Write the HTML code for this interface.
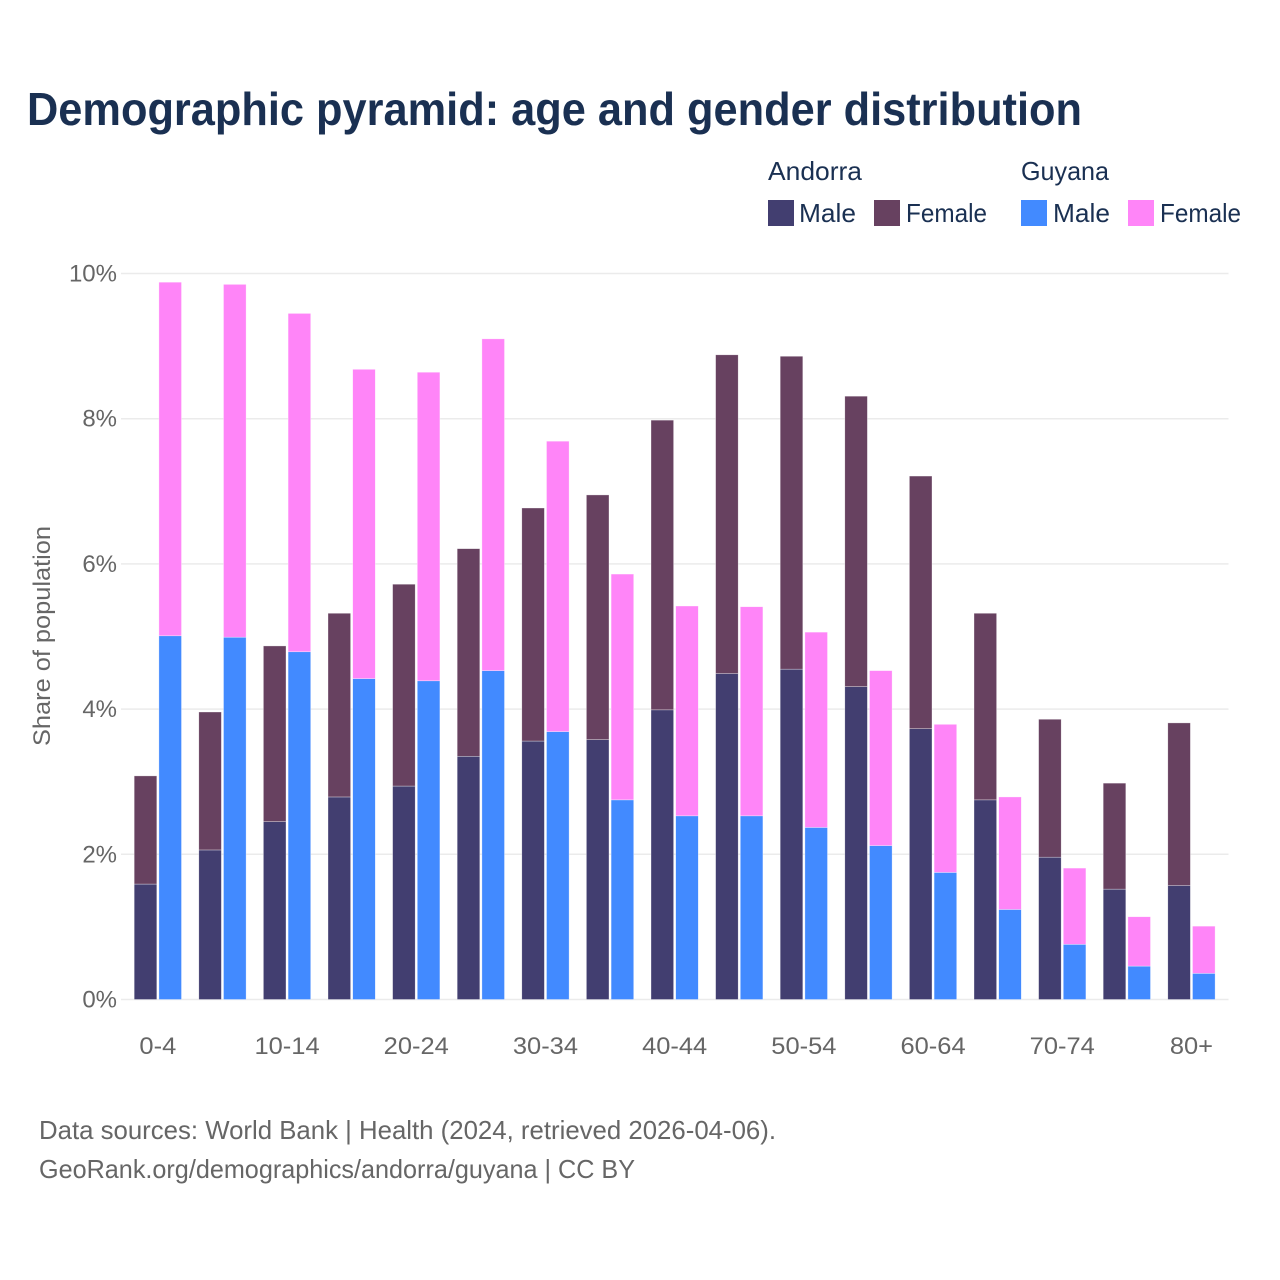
<!DOCTYPE html>
<html lang="en">
<head>
<meta charset="utf-8">
<title>Demographic pyramid: age and gender distribution</title>
<style>
html,body{margin:0;padding:0;background:#fff;}
svg{display:block;}
text{font-family:"Liberation Sans",sans-serif;}
</style>
</head>
<body>
<svg id="chart" xmlns="http://www.w3.org/2000/svg" width="1280" height="1280" viewBox="0 0 1280 1280">
  <rect x="0" y="0" width="1280" height="1280" fill="#ffffff"/>
  <text x="27" y="125" font-size="46" font-weight="700" fill="#1a3052" textLength="1055" lengthAdjust="spacingAndGlyphs">Demographic pyramid: age and gender distribution</text>

  <g font-size="26" fill="#1a3052">
    <text x="768" y="180" textLength="94" lengthAdjust="spacingAndGlyphs">Andorra</text>
    <text x="1021" y="180" textLength="88" lengthAdjust="spacingAndGlyphs">Guyana</text>
    <rect x="768" y="200" width="26" height="26" fill="#423e70"/>
    <text x="799" y="222" textLength="57" lengthAdjust="spacingAndGlyphs">Male</text>
    <rect x="874" y="200" width="26" height="26" fill="#674160"/>
    <text x="906" y="222" textLength="81" lengthAdjust="spacingAndGlyphs">Female</text>
    <rect x="1021" y="200" width="26" height="26" fill="#428aff"/>
    <text x="1053" y="222" textLength="57" lengthAdjust="spacingAndGlyphs">Male</text>
    <rect x="1128" y="200" width="26" height="26" fill="#ff85f8"/>
    <text x="1160" y="222" textLength="81" lengthAdjust="spacingAndGlyphs">Female</text>
  </g>

  <g id="grid"></g>
  <g id="y-ticks"></g>
  <g id="bars"></g>
  <g id="x-ticks"></g>

  <text transform="translate(50,746) rotate(-90)" x="0" y="0" font-size="24" fill="#666666" textLength="220" lengthAdjust="spacingAndGlyphs">Share of population</text>

  <text x="39" y="1139" font-size="26" fill="#666666" textLength="737" lengthAdjust="spacingAndGlyphs">Data sources: World Bank | Health (2024, retrieved 2026-04-06).</text>
  <text x="39" y="1178" font-size="26" fill="#666666" textLength="596" lengthAdjust="spacingAndGlyphs">GeoRank.org/demographics/andorra/guyana | CC BY</text>
</svg>
<script>
const ageGroups = ["0-4","5-9","10-14","15-19","20-24","25-29","30-34","35-39","40-44","45-49","50-54","55-59","60-64","65-69","70-74","75-79","80+"];
const xTickLabels = ["0-4","10-14","20-24","30-34","40-44","50-54","60-64","70-74","80+"];
const yTickValues = [0,2,4,6,8,10];
const andorraMale = [1.59,2.06,2.45,2.79,2.94,3.35,3.56,3.58,3.99,4.49,4.55,4.31,3.73,2.75,1.96,1.52,1.57];
const andorraFemale = [1.49,1.90,2.42,2.53,2.78,2.86,3.21,3.37,3.99,4.39,4.31,4.00,3.48,2.57,1.90,1.46,2.24];
const guyanaMale = [5.01,4.99,4.79,4.42,4.39,4.53,3.69,2.75,2.53,2.53,2.37,2.12,1.75,1.24,0.76,0.46,0.36];
const guyanaFemale = [4.87,4.86,4.66,4.26,4.25,4.57,4.00,3.11,2.89,2.88,2.69,2.41,2.04,1.55,1.05,0.68,0.65];

const SVG_NS = "http://www.w3.org/2000/svg";
const PLOT_LEFT = 121, PLOT_RIGHT = 1228.5, Y_ZERO = 999.5, Y_TOP = 273.5, Y_MAX = 10;
const BAND_START = 126, BAND_STEP = 64.6;
const BAR_WIDTH = 22.6, ANDORRA_OFFSET = 8.2, GUYANA_OFFSET = 32.9;

function yScale(v) { return Y_ZERO - (v / Y_MAX) * (Y_ZERO - Y_TOP); }
function bandStart(i) { return BAND_START + i * BAND_STEP; }
function bandCenter(i) { return bandStart(i) + (ANDORRA_OFFSET + GUYANA_OFFSET + BAR_WIDTH) / 2; }

const grid = document.getElementById("grid");
const yTicks = document.getElementById("y-ticks");
const barsGroup = document.getElementById("bars");
const xTicks = document.getElementById("x-ticks");

yTickValues.forEach(function (v) {
  const line = document.createElementNS(SVG_NS, "line");
  
  
  line.setAttribute("x1", PLOT_LEFT);
  line.setAttribute("x2", PLOT_RIGHT);
  line.setAttribute("y1", yScale(v));
  line.setAttribute("y2", yScale(v));
  line.setAttribute("stroke", "#ebebeb");
  line.setAttribute("stroke-width", "1.5");
  grid.appendChild(line);

  const label = document.createElementNS(SVG_NS, "text");
  
  
  label.setAttribute("x", 117);
  label.setAttribute("y", yScale(v) + 8);
  label.setAttribute("text-anchor", "end");
  label.setAttribute("font-size", "24");
  label.setAttribute("fill", "#666666");
  label.textContent = v + "%";
  yTicks.appendChild(label);
});

function drawSegment(x, base, value, color, name) {
  const rect = document.createElementNS(SVG_NS, "rect");
  
  
  rect.setAttribute("x", x);
  rect.setAttribute("y", yScale(base + value));
  rect.setAttribute("width", BAR_WIDTH);
  rect.setAttribute("height", yScale(base) - yScale(base + value));
  rect.setAttribute("fill", color);
  rect.setAttribute("stroke", "#ffffff");
  rect.setAttribute("stroke-opacity", "0.55");
  rect.setAttribute("stroke-width", "0.6");
  barsGroup.appendChild(rect);
}

ageGroups.forEach(function (group, i) {
  const ax = bandStart(i) + ANDORRA_OFFSET;
  const gx = bandStart(i) + GUYANA_OFFSET;
  drawSegment(ax, 0, andorraMale[i], "#423e70", "bar-andorra-male-" + group);
  drawSegment(ax, andorraMale[i], andorraFemale[i], "#674160", "bar-andorra-female-" + group);
  drawSegment(gx, 0, guyanaMale[i], "#428aff", "bar-guyana-male-" + group);
  drawSegment(gx, guyanaMale[i], guyanaFemale[i], "#ff85f8", "bar-guyana-female-" + group);
});

xTickLabels.forEach(function (tick) {
  const label = document.createElementNS(SVG_NS, "text");
  
  
  label.setAttribute("x", bandCenter(ageGroups.indexOf(tick)));
  label.setAttribute("y", 1054);
  label.setAttribute("text-anchor", "middle");
  label.setAttribute("font-size", "24");
  label.setAttribute("fill", "#666666");
  label.textContent = tick;
  xTicks.appendChild(label);
  label.setAttribute("textLength", (label.getComputedTextLength() * 1.06).toFixed(1));
  label.setAttribute("lengthAdjust", "spacingAndGlyphs");
});
</script>
</body>
</html>
